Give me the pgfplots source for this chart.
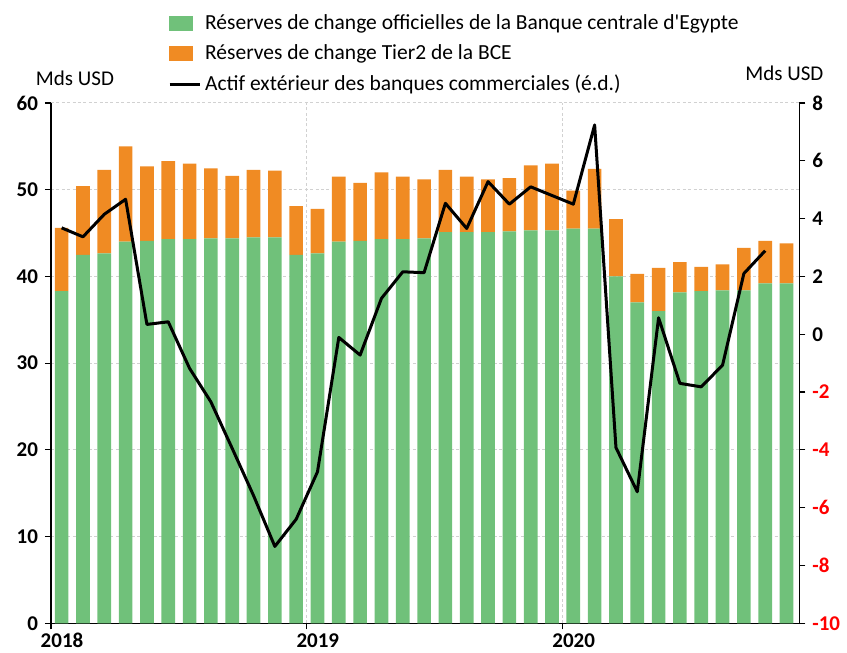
\documentclass[border=0pt]{standalone}
\usepackage{pgfplots}
\pgfplotsset{compat=1.18}
\usepackage{pgfplotstable}
\usepackage{fontspec}
\setmainfont{Carlito}[Ligatures=TeXOff]
\definecolor{cgreen}{RGB}{112,193,122}
\definecolor{corange}{RGB}{240,139,35}
\definecolor{cred}{RGB}{255,0,0}

\pgfplotstableread{
x g o
0.5 38.3 7.3
1.5 42.5 7.9
2.5 42.65 9.65
3.5 44.0 11.0
4.5 44.1 8.6
5.5 44.3 9.0
6.5 44.3 8.7
7.5 44.4 8.05
8.5 44.4 7.2
9.5 44.5 7.8
10.5 44.5 7.7
11.5 42.5 5.6
12.5 42.65 5.15
13.5 44.0 7.5
14.5 44.1 6.7
15.5 44.3 7.7
16.5 44.3 7.2
17.5 44.4 6.8
18.5 45.1 7.2
19.5 45.1 6.4
20.5 45.1 6.1
21.5 45.2 6.15
22.5 45.3 7.5
23.5 45.3 7.7
24.5 45.5 4.4
25.5 45.5 6.9
26.5 40.0 6.6
27.5 37.0 3.3
28.5 36.0 5.0
29.5 38.15 3.5
30.5 38.3 2.8
31.5 38.4 3.0
32.5 38.4 4.9
33.5 39.2 4.9
34.5 39.2 4.6
}\bars

\pgfplotstableread{
x l
0.5 3.68
1.5 3.37
2.5 4.15
3.5 4.67
4.5 0.34
5.5 0.43
6.5 -1.18
7.5 -2.34
8.5 -3.95
9.5 -5.58
10.5 -7.34
11.5 -6.40
12.5 -4.76
13.5 -0.11
14.5 -0.72
15.5 1.24
16.5 2.16
17.5 2.13
18.5 4.53
19.5 3.66
20.5 5.28
21.5 4.50
22.5 5.10
23.5 4.80
24.5 4.50
25.5 7.24
26.5 -3.92
27.5 -5.45
28.5 0.57
29.5 -1.70
30.5 -1.82
31.5 -1.07
32.5 2.10
33.5 2.89
}\actif

\begin{document}
\begin{tikzpicture}
\path[use as bounding box] (-25.5pt,-14.85pt) rectangle (398pt,311.65pt);
\begin{axis}[
  scale only axis, width=374.15pt, height=260.15pt,
  at={(0pt,0pt)}, anchor=south west,
  xmin=0, xmax=35.1, ymin=0, ymax=60,
  axis y line*=left, axis x line*=bottom,
  ybar stacked, bar width=0.64,
  xtick={0,12,24}, xticklabels={2018,2019,2020},
  ytick={0,10,...,60},
  /pgf/number format/assume math mode=true,
  xmajorgrids, ymajorgrids,
  grid style={dash pattern=on 1.5pt off 1.2pt, black!18, line width=0.5pt},
  tick align=outside, major tick length=3pt,
  tick style={black, line width=0.6pt},
  axis line style={black, line width=0.6pt, -},
  ticklabel style={font=\bfseries\fontsize{10.5}{12}\selectfont},
  xticklabel style={xshift=5.5pt, yshift=1.5pt},
  clip=false,
]
\addplot[fill=cgreen, draw=none] table[x=x,y=g]{\bars};
\addplot[fill=corange, draw=none] table[x=x,y=o]{\bars};
\node[font=\fontsize{10.5}{12}\selectfont] at (rel axis cs:0.032,1.048) {Mds USD};
\node[font=\fontsize{10.5}{12}\selectfont] at (rel axis cs:0.98,1.057) {Mds USD};
\end{axis}
\begin{axis}[
  scale only axis, width=374.15pt, height=260.15pt,
  at={(0pt,0pt)}, anchor=south west,
  xmin=0, xmax=35.1, ymin=-10, ymax=8,
  axis y line*=right, axis x line=none,
  ytick={-10,-8,...,8},
  yticklabels={\textcolor{cred}{-10},\textcolor{cred}{-8},\textcolor{cred}{-6},\textcolor{cred}{-4},\textcolor{cred}{-2},0,2,4,6,8},
  tick align=outside, major tick length=3pt,
  tick style={black, line width=0.6pt},
  axis line style={black, line width=0.6pt, -},
  ticklabel style={font=\bfseries\fontsize{10.5}{12}\selectfont},
  clip=false,
  legend style={at={(0.156,1.178)}, anchor=north west, draw=none, fill=none,
    inner sep=0pt, row sep=2pt, font=\fontsize{10.75}{12.6}\selectfont},
  legend cell align=left,
]
\addlegendimage{legend image code/.code={\fill[cgreen] (0pt,-3.5pt) rectangle (11.5pt,3.5pt);}}
\addlegendentry{Réserves de change officielles de la Banque centrale d'Egypte}
\addlegendimage{legend image code/.code={\fill[corange] (0pt,-3.5pt) rectangle (11.5pt,3.5pt);}}
\addlegendentry{Réserves de change Tier2 de la BCE}
\addplot[black, line width=1.5pt, line join=round, legend image code/.code={\draw[black, line width=1.5pt] (0pt,0pt) -- (15pt,0pt);}] table[x=x,y=l]{\actif};
\addlegendentry{Actif extérieur des banques commerciales (é.d.)}
\end{axis}
\end{tikzpicture}
\end{document}
